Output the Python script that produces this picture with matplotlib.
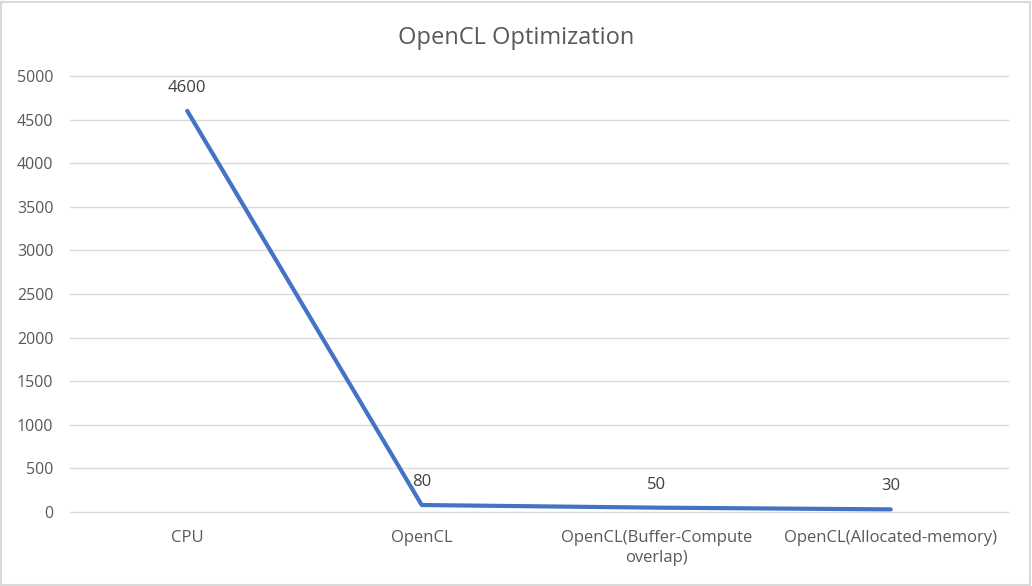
import matplotlib.pyplot as plt
from matplotlib.patches import Rectangle

# data
categories = ['CPU', 'OpenCL', 'OpenCL(Buffer-Compute\noverlap)', 'OpenCL(Allocated-memory)']
times = [4600, 80, 50, 30]
yticks = [0, 500, 1000, 1500, 2000, 2500, 3000, 3500, 4000, 4500, 5000]

plt.rcParams['font.family'] = ['Open Sans', 'DejaVu Sans']
TXT = '#595959'

fig = plt.figure(figsize=(10.32, 5.86), dpi=100)
ax = fig.add_axes([70/1032, 1 - 512/586, 938/1032, 436/586])

x = list(range(len(categories)))
ax.plot(x, times, color='#4472C4', lw=3, solid_capstyle='round', solid_joinstyle='round', zorder=3)

for xi, v in zip(x, times):
    ax.annotate(str(v), (xi, v), xytext=(0, 16.5), textcoords='offset points',
                ha='center', va='center', fontsize=12, color='#404040')

ax.set_xlim(-0.5, len(categories) - 0.5)
ax.set_ylim(0, 5000)
ax.set_yticks(yticks)
ax.set_xticks(x)
ax.set_xticklabels(categories, fontsize=12, color=TXT, linespacing=1.35)
ax.tick_params(axis='y', labelsize=11.5, labelcolor=TXT, length=0, pad=12)
ax.tick_params(axis='x', length=0, pad=13)
ax.yaxis.grid(True, color='#D9D9D9', lw=1)
for gl in ax.get_ygridlines():
    gl.set_clip_on(False)
ax.set_axisbelow(True)
for s in ax.spines.values():
    s.set_visible(False)

fig.suptitle('OpenCL Optimization', y=1 - 38/586, va='center', fontsize=17, color=TXT)

# outer chart border
fig.patches.append(Rectangle((0.001, 0.002), 0.997, 0.995, transform=fig.transFigure,
                             fill=False, edgecolor='#D9D9D9', lw=1.5))

fig.savefig('out.png', dpi=100)
